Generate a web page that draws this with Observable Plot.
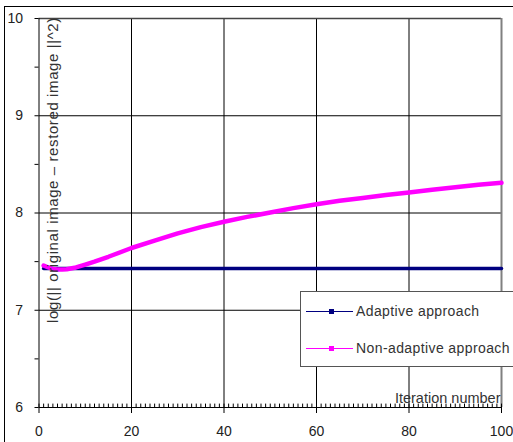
<!DOCTYPE html>
<html><head><meta charset="utf-8">
<script src="https://cdn.jsdelivr.net/npm/d3@7"></script>
<script src="https://cdn.jsdelivr.net/npm/@observablehq/plot@0.6"></script>
<style>body{margin:0;background:#fff;} svg{display:block;}</style>
</head><body><div id="chart"></div>
<script>
// Data
const adaptiveIter = [1, 100];
const adaptiveVal = [7.43, 7.43];
const nonAdaptiveIter = [1, 2, 3, 4, 5, 6, 8, 10, 12, 15, 20, 25, 30, 35, 40, 45, 50, 55, 60, 65, 70, 75, 80, 85, 90, 95, 100];
const nonAdaptiveVal = [7.46, 7.44, 7.425, 7.418, 7.418, 7.422, 7.44, 7.47, 7.50, 7.55, 7.64, 7.715, 7.79, 7.855, 7.91, 7.96, 8.005, 8.05, 8.09, 8.125, 8.155, 8.185, 8.21, 8.24, 8.265, 8.29, 8.31];
const xTicks = [0, 20, 40, 60, 80, 100];
const yTicks = [6, 7, 8, 9, 10];
const seriesNames = ["Adaptive approach", "Non-adaptive approach"];
const seriesColors = ["#000080", "#ff00ff"];
const xLabel = "Iteration number";
const yLabel = "log(|| original image \u2013 restored image ||^2)";

const adaptive = adaptiveIter.map((x, i) => ({x, y: adaptiveVal[i]}));
const nonAdaptive = nonAdaptiveIter.map((x, i) => ({x, y: nonAdaptiveVal[i]}));
const minorX = d3.range(0, 101, 1);
const yAll = d3.range(6, 10.01, 0.5);

const font = "Liberation Sans, Arial, sans-serif";
const W = 513, H = 442;
const plot = Plot.plot({
  width: W, height: H,
  marginLeft: 38.5, marginRight: 12, marginTop: 18, marginBottom: 35,
  style: {fontFamily: font, background: "#fff", color: "#222"},
  x: {domain: [0, 100]},
  y: {domain: [6, 10]},
  marks: [
    Plot.ruleX([20, 40, 60, 80], {stroke: "#000", strokeWidth: 1}),
    Plot.ruleY([7, 8, 9], {stroke: "#000", strokeWidth: 1}),
    Plot.ruleY([10], {stroke: "#444", strokeWidth: 1.5}),
    Plot.ruleX([100], {stroke: "#808080", strokeWidth: 2}),
    Plot.ruleX(minorX, {y1: 6, y2: 6.035, stroke: "#000", strokeWidth: 1}),
    Plot.axisX({ticks: xTicks, tickSize: 6, tickPadding: 13, fontSize: 14, label: null, stroke: "#000"}),
    Plot.axisY({ticks: yAll, tickSize: 4, tickPadding: 12, fontSize: 14, label: null,
      tickFormat: d => Number.isInteger(d) ? String(d) : "", stroke: "#000"}),
    Plot.ruleX([0], {stroke: "#000", strokeWidth: 1}),
    Plot.ruleY([6], {stroke: "#000", strokeWidth: 1}),
    Plot.line(adaptive, {x: "x", y: "y", stroke: seriesColors[0], strokeWidth: 3.5}),
    Plot.line(nonAdaptive, {x: "x", y: "y", stroke: seriesColors[1], strokeWidth: 4.5}),
    Plot.text([xLabel], {frameAnchor: "bottom-right", dx: -1, dy: -5, textAnchor: "end", lineAnchor: "bottom", fontSize: 14.5, fill: "#333"}),
    Plot.text([yLabel], {frameAnchor: "left", dx: 14, dy: -43, rotate: -90, textAnchor: "middle", fontSize: 15, fill: "#333"})
  ]
});
document.getElementById("chart").appendChild(plot);

// Decorations: outer frame and legend
const svg = d3.select(plot);
svg.selectAll("text").filter(function() { return this.textContent === yLabel; }).attr("letter-spacing", 0.6);
svg.append("line").attr("x1", 4.5).attr("x2", 4.5).attr("y1", 6).attr("y2", H).attr("stroke", "#000");
svg.append("line").attr("x1", 4).attr("x2", W).attr("y1", 6.5).attr("y2", 6.5).attr("stroke", "#000");
const lg = svg.append("g");
lg.append("rect").attr("x", 300.5).attr("y", 291.5).attr("width", 220).attr("height", 75)
  .attr("fill", "#fff").attr("stroke", "#555");
const rows = [311, 348];
seriesNames.forEach((name, i) => {
  lg.append("line").attr("x1", 306).attr("x2", 353).attr("y1", rows[i] + 0.5).attr("y2", rows[i] + 0.5)
    .attr("stroke", seriesColors[i]).attr("stroke-width", 1.2);
  lg.append("rect").attr("x", 329).attr("y", rows[i] - 2).attr("width", 5).attr("height", 5).attr("fill", seriesColors[i]);
  lg.append("text").attr("x", 356).attr("y", rows[i]).attr("dy", "0.35em").attr("text-anchor", "start")
    .attr("font-size", 14).attr("letter-spacing", 0.4).attr("font-family", font).attr("fill", "#333").text(name);
});
</script>
</body></html>
